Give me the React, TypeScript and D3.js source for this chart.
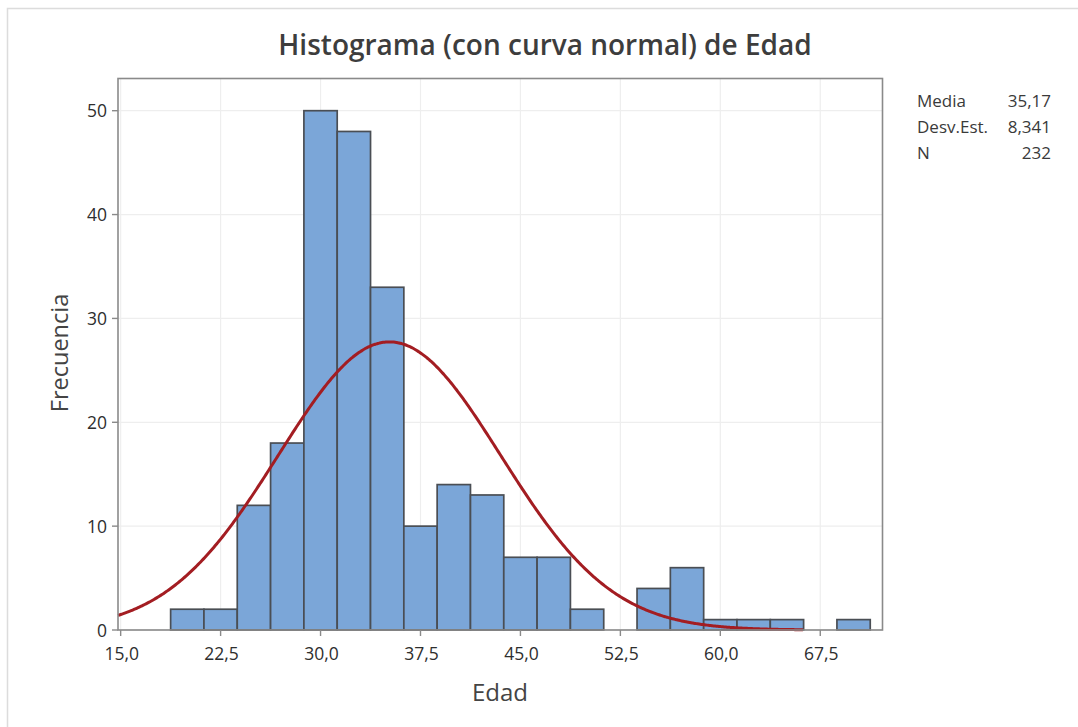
import { useEffect, useRef } from 'react';
import * as d3 from 'd3';

// bin midpoints (width 2,5) and counts
const binMids = [20, 22.5, 25, 27.5, 30, 32.5, 35, 37.5, 40, 42.5, 45, 47.5, 50, 52.5, 55, 57.5, 60, 62.5, 65, 67.5, 70];
const counts = [2, 2, 12, 18, 50, 48, 33, 10, 14, 13, 7, 7, 2, 0, 4, 6, 1, 1, 1, 0, 1];
const binWidth = 2.5;

const xTicks = [15, 22.5, 30, 37.5, 45, 52.5, 60, 67.5];
const yTicks = [0, 10, 20, 30, 40, 50];

const statLabels = ['Media', 'Desv.Est.', 'N'];
const statValues = ['35,17', '8,341', '232'];
const mean = 35.17;
const sd = 8.341;
const n = 232;

const W = 1078;
const H = 727;

const App = () => {
  const svgRef = useRef<SVGSVGElement | null>(null);

  useEffect(() => {
    if (!svgRef.current) return;
    const svg = d3.select(svgRef.current);
    svg.selectAll('*').remove();

    const left = 118, right = 882.5, top = 78.5, bottom = 630;
    const font = "'Open Sans', 'Noto Sans', sans-serif";

    const x = d3.scaleLinear().domain([14.8, 72.17]).range([left, right]);
    const y = d3.scaleLinear().domain([0, 53.1]).range([bottom, top]);

    // outer frame (top & left edges only visible)
    svg.append('rect').attr('x', 0).attr('y', 0).attr('width', W).attr('height', H).attr('fill', '#fff');
    svg.append('path')
      .attr('d', `M7.5,${H} V8.5 H${W}`)
      .attr('fill', 'none')
      .attr('stroke', '#dcdcdc')
      .attr('stroke-width', 1.5);

    // gridlines
    const grid = svg.append('g').attr('stroke', '#eeeeee').attr('stroke-width', 1.2);
    xTicks.forEach(t => {
      grid.append('line').attr('x1', x(t)).attr('x2', x(t)).attr('y1', top).attr('y2', bottom);
    });
    yTicks.forEach(t => {
      grid.append('line').attr('x1', left).attr('x2', right).attr('y1', y(t)).attr('y2', y(t));
    });

    // bars
    svg.append('g')
      .selectAll('rect')
      .data(binMids.map((m, i) => ({ m, c: counts[i] })).filter(d => d.c > 0))
      .join('rect')
      .attr('x', d => x(d.m - binWidth / 2))
      .attr('width', d => x(d.m + binWidth / 2) - x(d.m - binWidth / 2))
      .attr('y', d => y(d.c))
      .attr('height', d => y(0) - y(d.c))
      .attr('fill', '#7ba6d8')
      .attr('stroke', '#4a4e54')
      .attr('stroke-width', 1.7);

    // fitted normal curve scaled to counts
    const curveStart = 14.8, curveEnd = 66.2;
    const pts = d3.range(curveStart, curveEnd + 0.001, 0.1).map(v => [
      v,
      (n * binWidth) / (sd * Math.sqrt(2 * Math.PI)) * Math.exp(-0.5 * ((v - mean) / sd) ** 2),
    ]);
    svg.append('path')
      .attr('d', d3.line<number[]>().x(d => x(d[0])).y(d => y(d[1])).curve(d3.curveBasis)(pts))
      .attr('fill', 'none')
      .attr('stroke', '#a31d22')
      .attr('stroke-width', 3);

    // plot frame
    svg.append('rect')
      .attr('x', left).attr('y', top)
      .attr('width', right - left).attr('height', bottom - top)
      .attr('fill', 'none')
      .attr('stroke', '#8a8a8a')
      .attr('stroke-width', 1.6);

    // x axis ticks
    const fmt = (v: number) => v.toFixed(1).replace('.', ',');
    const xa = svg.append('g');
    xTicks.forEach(t => {
      xa.append('line').attr('x1', x(t)).attr('x2', x(t)).attr('y1', bottom).attr('y2', bottom + 6)
        .attr('stroke', '#8a8a8a').attr('stroke-width', 1.4);
      xa.append('text').attr('x', x(t) + 1).attr('y', 660)
        .attr('text-anchor', 'middle').attr('font-family', font).attr('font-size', 17.5)
        .attr('fill', '#2e2e2e').text(fmt(t));
    });

    // y axis ticks
    const ya = svg.append('g');
    yTicks.forEach(t => {
      ya.append('line').attr('x1', left - 6).attr('x2', left).attr('y1', y(t)).attr('y2', y(t))
        .attr('stroke', '#8a8a8a').attr('stroke-width', 1.4);
      ya.append('text').attr('x', left - 11).attr('y', y(t) + 6.5)
        .attr('text-anchor', 'end').attr('font-family', font).attr('font-size', 17.5)
        .attr('fill', '#2e2e2e').text(String(t));
    });

    // titles
    svg.append('text').attr('x', 545).attr('y', 55)
      .attr('text-anchor', 'middle').attr('font-family', font).attr('font-size', 28)
      .attr('font-weight', 600).attr('fill', '#3d3d3d')
      .text('Histograma (con curva normal) de Edad');

    svg.append('text').attr('x', 500).attr('y', 701)
      .attr('text-anchor', 'middle').attr('font-family', font).attr('font-size', 24)
      .attr('fill', '#444').text('Edad');

    svg.append('text')
      .attr('transform', 'translate(68,353) rotate(-90)')
      .attr('text-anchor', 'middle').attr('font-family', font).attr('font-size', 23.5)
      .attr('fill', '#444').text('Frecuencia');

    // stats legend
    const lg = svg.append('g').attr('font-family', font).attr('font-size', 17).attr('fill', '#3a3a3a');
    statLabels.forEach((s, i) => {
      lg.append('text').attr('x', 917).attr('y', 107 + i * 26).text(s);
      lg.append('text').attr('x', 1051).attr('y', 107 + i * 26).attr('text-anchor', 'end').text(statValues[i]);
    });
  }, []);

  return (
    <div style={{ position: 'absolute', left: 0, top: 0 }}>
      <svg ref={svgRef} width={W} height={H}></svg>
    </div>
  );
};

export default App;
